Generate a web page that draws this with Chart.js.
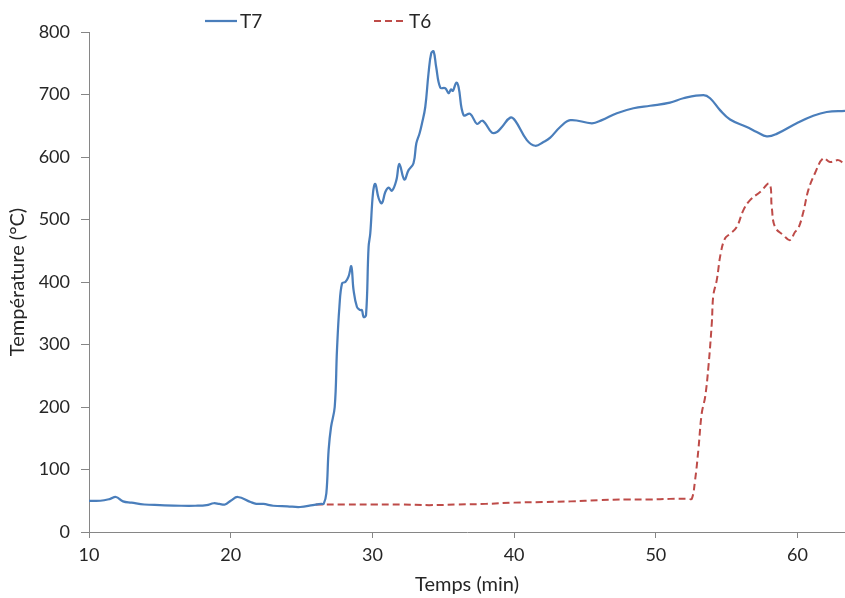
<!DOCTYPE html>
<html lang="fr">
<head>
<meta charset="UTF-8">
<title>Température T7 / T6</title>
<script src="https://cdn.jsdelivr.net/npm/chart.js"></script>
<style>
  html, body { margin: 0; padding: 0; background: #fff; }
</style>
</head>
<body>
<canvas id="grafico" width="845" height="598"></canvas>
<script>
// valeurs (temps en min, température en °C)
const tempsT7 = [10, 10.8, 11.5, 11.9, 12.4, 13.0, 13.9, 15.0, 16.5, 17.5, 18.3, 18.8, 19.2, 19.6, 20.0, 20.5,
  21.4, 21.8, 22.3, 23.0, 24.0, 24.9, 25.8, 26.4, 26.56, 26.75, 26.91, 27.08, 27.34, 27.5, 27.67, 27.86,
  28.09, 28.32, 28.51, 28.67, 28.91, 29.15, 29.26, 29.38, 29.55, 29.73, 29.85, 30.04, 30.2, 30.44, 30.67,
  30.91, 31.14, 31.38, 31.69, 31.9, 32.25, 32.55, 32.9, 33.1, 33.33, 33.5, 33.73, 33.96, 34.15, 34.32,
  34.5, 34.79, 35.14, 35.38, 35.54, 35.68, 35.92, 36.08, 36.43, 36.9, 37.38, 37.73, 37.96, 38.43, 38.79,
  39.14, 39.73, 40.08, 40.9, 41.49, 42.07, 42.55, 43.25, 43.96, 45.49, 46.19, 47.25, 48.42, 49.6, 51.0,
  51.94, 53.36, 53.83, 54.53, 55.24, 56.42, 57.12, 57.83, 58.53, 59.94, 61.11, 62.06, 63.35];
const tempT7 = [50, 50, 53, 56, 49, 47, 44, 43, 42, 42, 43, 46, 45, 44, 50, 56,
  48, 45, 45, 42, 41, 40, 43, 45, 45, 62, 131, 168, 200, 291, 360, 398,
  400, 409, 425, 387, 360, 355, 355, 344, 347, 456, 478, 542, 557, 534, 526,
  544, 551, 546, 563, 589, 564, 579, 590, 622, 638, 654, 680, 734, 766, 769,
  744, 711, 710, 702, 708, 706, 719, 712, 667, 669, 653, 658, 654, 639, 640,
  648, 663, 658, 627, 618, 624, 631, 648, 659, 654, 659, 670, 678, 682, 687,
  694, 699, 694, 675, 660, 648, 640, 633, 637, 654, 666, 672, 674];

const tempsT6 = [26.0, 28, 30, 32, 34, 36, 38, 40, 42, 44, 46, 48, 49.6, 51, 52.3, 52.54, 52.77, 53.0,
  53.24, 53.48, 53.71, 53.95, 54.06, 54.3, 54.58, 54.89, 55.24, 55.71, 56.18, 56.65, 57.36, 58.01,
  58.18, 58.41, 59.0, 59.47, 59.82, 60.06, 60.41, 60.76, 61.23, 61.82, 62.29, 62.88, 63.23];
const tempT6 = [44, 44, 44, 44, 43, 44, 45, 47, 48, 49, 51, 52, 52, 53, 53, 53, 83, 131,
  190, 216, 264, 334, 379, 403, 446, 470, 477, 488, 515, 531, 544, 557,
  520, 488, 475, 467, 480, 486, 512, 547, 574, 598, 592, 595, 590];

const ticksX = [10, 20, 30, 40, 50, 60];
const ticksY = [0, 100, 200, 300, 400, 500, 600, 700, 800];

const corTexto = '#262626';
const corEixo = '#868686';
const fonteTicks = { family: 'Lato', size: 18 };
const fonteTitulo = { family: 'Lato', size: 20 };

// legenda desenhada à mão, para ter o espaço entre T7 e T6 como no original
const legendaManual = {
  id: 'legendaManual',
  afterDraw(chart) {
    const ctx = chart.ctx;
    const posX = [205, 374];
    chart.data.datasets.forEach((ds, i) => {
      const x = posX[i];
      const y = 21;
      ctx.save();
      ctx.strokeStyle = ds.borderColor;
      ctx.lineWidth = ds.borderWidth;
      ctx.setLineDash(ds.borderDash || []);
      ctx.beginPath();
      ctx.moveTo(x, y);
      ctx.lineTo(x + 32, y);
      ctx.stroke();
      ctx.setLineDash([]);
      ctx.fillStyle = corTexto;
      ctx.font = '19px Lato';
      ctx.textBaseline = 'middle';
      ctx.fillText(ds.label, x + 35, y + 1);
      ctx.restore();
    });
  }
};

const ctx = document.getElementById('grafico').getContext('2d');
const grafico = new Chart(ctx, {
  type: 'line',
  data: {
    datasets: [
      {
        label: 'T7',
        data: tempsT7.map((t, i) => ({ x: t, y: tempT7[i] })),
        borderColor: '#4A7EBB',
        borderWidth: 2.25,
        pointRadius: 0,
        tension: 0.4,
        fill: false
      },
      {
        label: 'T6',
        data: tempsT6.map((t, i) => ({ x: t, y: tempT6[i] })),
        borderColor: '#BE4B48',
        borderWidth: 2,
        borderDash: [7, 4],
        pointRadius: 0,
        tension: 0.4,
        fill: false
      }
    ]
  },
  options: {
    responsive: false,
    animation: false,
    layout: { padding: { top: 32, right: 0, left: 0, bottom: 0 } },
    scales: {
      x: {
        type: 'linear',
        min: 10,
        max: 63.35,
        afterBuildTicks: axis => { axis.ticks = ticksX.map(v => ({ value: v })); },
        afterFit: axis => { axis.height = 66; },
        ticks: { color: corTexto, font: fonteTicks, padding: 6, maxRotation: 0 },
        grid: { drawOnChartArea: false, drawTicks: true, tickLength: 6, color: corEixo },
        border: { color: corEixo, width: 1 },
        title: {
          display: true,
          text: 'Temps (min)',
          color: corTexto,
          font: fonteTitulo,
          padding: { top: 0, bottom: 1 }
        }
      },
      y: {
        min: 0,
        max: 800,
        afterBuildTicks: axis => { axis.ticks = ticksY.map(v => ({ value: v })); },
        afterFit: axis => { axis.width = 89; },
        ticks: { color: corTexto, font: fonteTicks, padding: 11 },
        grid: { drawOnChartArea: false, drawTicks: true, tickLength: 8, color: corEixo },
        border: { color: corEixo, width: 1 },
        title: {
          display: true,
          text: 'Température (°C)',
          color: corTexto,
          font: fonteTitulo,
          padding: { top: 6, bottom: 0 }
        }
      }
    },
    plugins: {
      legend: { display: false },
      tooltip: { enabled: false }
    }
  },
  plugins: [legendaManual]
});
</script>
</body>
</html>
